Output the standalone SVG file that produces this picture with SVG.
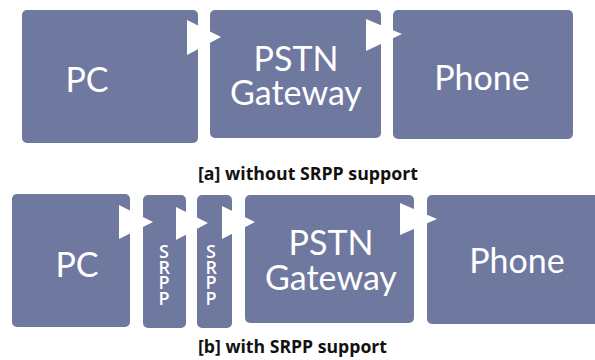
<svg xmlns="http://www.w3.org/2000/svg" width="595" height="360" viewBox="0 0 595 360">
  <style>
    .box { fill: #6F789F; }
    .lbl { font-family: Lato, "Open Sans", sans-serif; font-size: 34px; fill: #ffffff; text-anchor: middle; }
    .srpp { font-family: "Open Sans", sans-serif; font-weight: 600; font-size: 18px; fill: #ffffff; writing-mode: vertical-rl; text-orientation: upright; letter-spacing: -8.5px; }
    .cap { font-family: "Open Sans", sans-serif; font-weight: 700; font-size: 17px; fill: #111111; }
    .arr { fill: #ffffff; }
  </style>
  <rect width="595" height="360" fill="#ffffff"/>

  <!-- row a: without SRPP -->
  <g id="a-pc">
    <rect class="box" x="22" y="10" width="176" height="133" rx="5"/>
    <text class="lbl" x="87" y="92">PC</text>
  </g>
  <g id="a-gateway">
    <rect class="box" x="210" y="10" width="171" height="128" rx="5"/>
    <text class="lbl"><tspan x="296" y="71">PSTN</tspan><tspan x="296" y="105">Gateway</tspan></text>
  </g>
  <g id="a-phone">
    <rect class="box" x="393" y="10" width="180" height="129" rx="5"/>
    <text class="lbl" x="482" y="90">Phone</text>
  </g>

  <!-- row b: with SRPP -->
  <g id="b-pc">
    <rect class="box" x="12" y="194" width="118" height="133" rx="5"/>
    <text class="lbl" x="77" y="277">PC</text>
  </g>
  <g id="b-srpp1">
    <rect class="box" x="143" y="195" width="43" height="133" rx="5"/>
    <text class="srpp" x="164" y="239">SRPP</text>
  </g>
  <g id="b-srpp2">
    <rect class="box" x="197" y="195" width="35" height="133" rx="5"/>
    <text class="srpp" x="211" y="239">SRPP</text>
  </g>
  <g id="b-gateway">
    <rect class="box" x="245" y="195" width="169" height="128" rx="5"/>
    <text class="lbl"><tspan x="331" y="255">PSTN</tspan><tspan x="331" y="290">Gateway</tspan></text>
  </g>
  <g id="b-phone">
    <rect class="box" x="427" y="195" width="175" height="129" rx="5"/>
    <text class="lbl" x="517" y="273">Phone</text>
  </g>

  <!-- flow arrows -->
  <g id="connectors">
    <polygon class="arr" points="187,20 221,37 187,55"/>
    <polygon class="arr" points="366,19 402,34 366,51"/>
    <polygon class="arr" points="119,205 153,222 119,239"/>
    <polygon class="arr" points="176,207 208,223 176,240"/>
    <polygon class="arr" points="222,206 255,222 222,239"/>
    <polygon class="arr" points="400,203 437,219 400,235"/>
  </g>

  <!-- captions -->
  <text class="cap" x="198" y="180" textLength="220" lengthAdjust="spacingAndGlyphs">[a] without SRPP  support</text>
  <text class="cap" x="198" y="353" textLength="189" lengthAdjust="spacingAndGlyphs">[b] with SRPP support</text>
</svg>
